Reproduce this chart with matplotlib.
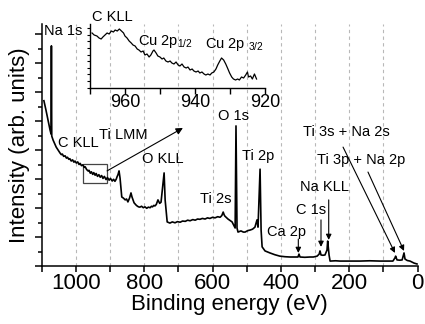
import numpy as np
import matplotlib
matplotlib.use('Agg')
import matplotlib.pyplot as plt
from matplotlib.ticker import MultipleLocator, NullFormatter
from matplotlib.patches import Rectangle

plt.rcParams['font.family'] = ['Liberation Sans', 'DejaVu Sans']

# survey spectrum (binding energy in eV, intensity in arb. units)
energy = [1094, 1088, 1082, 1076, 1073, 1072, 1071, 1067, 1058,
          1047, 1043, 1040, 1036, 1032, 1028, 1025, 1021, 1018, 1014, 1010, 1006,
          1003, 999, 995, 991, 988, 984, 980, 976, 973, 969, 965, 962, 958, 955,
          951, 948, 944, 941, 937, 933, 929, 925, 921, 917, 912, 908, 903, 899,
          894, 890, 886, 882, 880, 877, 874, 871, 866, 861,
          856, 852, 848, 843, 839, 836, 833, 830, 827, 824, 821, 817, 813, 808,
          803, 798, 793, 788, 783, 779, 776, 772, 769, 765, 760, 755, 751,
          742, 739, 733,
          725, 718, 710, 703, 695, 688, 680, 673, 666, 658, 651, 644, 637, 630,
          622, 615, 608, 600, 593, 585, 578, 573, 569, 566, 564, 555, 543, 537,
          534, 531.5, 528.5, 525.6, 517, 510, 505, 497, 490, 483, 476, 470, 467, 461,
          458, 455, 446.5, 432, 418, 403, 388, 373, 360, 350, 347, 344, 330, 315, 305,
          294, 288, 285.5, 282.5, 277, 271, 265, 263, 259, 256, 240, 227, 200, 168,
          140, 110, 90, 72, 66, 64, 60, 52, 45, 39.5, 36.6, 30, 22, 10, 1.5]
intensity = [5.70, 5.38, 5.03, 4.69, 4.55, 7.59, 4.48, 4.34, 4.10,
             3.90, 3.84, 3.86, 3.78, 3.80, 3.72, 3.75, 3.68, 3.70, 3.62, 3.66, 3.58,
             3.62, 3.55, 3.59, 3.50, 3.54, 3.46, 3.49, 3.40, 3.42, 3.33, 3.28, 3.30,
             3.20, 3.25, 3.16, 3.22, 3.13, 3.19, 3.09, 3.15, 3.06, 3.12, 3.02, 3.09,
             2.98, 3.05, 2.96, 3.02, 2.93, 2.99, 2.92, 3.00, 3.07, 3.15, 3.28, 3.03,
             2.38, 2.34,
             2.28, 2.31, 2.21, 2.35, 2.52, 2.38, 2.28, 2.18, 2.14, 2.10, 2.07, 2.04,
             2.03, 2.06, 2.01, 2.04, 1.99, 2.03, 2.01, 2.06, 2.04, 2.09, 2.07, 2.12,
             2.28, 2.16, 2.20,
             3.21, 2.28, 1.52,
             1.48, 1.52, 1.49, 1.53, 1.51, 1.55, 1.54, 1.58, 1.56, 1.60, 1.58, 1.62,
             1.61, 1.64, 1.62, 1.66, 1.64, 1.68, 1.66, 1.70, 1.68, 1.74, 1.86, 1.76,
             1.72, 1.62, 1.52, 1.38,
             1.31, 4.83, 1.31, 1.17, 1.21, 1.17, 1.17, 1.22, 1.24, 1.27, 1.34, 1.59,
             1.34, 3.34, 1.24, 0.66, 0.52, 0.45, 0.39, 0.34, 0.32, 0.31, 0.31, 0.31,
             0.41, 0.31, 0.30, 0.31, 0.31, 0.34, 0.41, 0.52, 0.38, 0.37, 0.38, 0.55,
             0.86, 0.38, 0.17, 0.18, 0.17, 0.17, 0.17, 0.18, 0.17, 0.17, 0.17, 0.28,
             0.34, 0.21, 0.20, 0.21, 0.45, 0.24, 0.19, 0.17, 0.10, 0.07]

# Cu 2p region shown in the inset
inset_energy = [969.5, 968.9, 968.1, 967.5, 966.9, 966.4, 965.8, 965.2, 964.6, 964.0,
                963.4, 962.9, 962.3, 961.7, 961.1, 960.5, 960.1, 959.5, 958.9, 958.3,
                957.8, 957.2, 956.6, 956.1, 955.5, 954.9, 954.4, 953.8, 953.2, 952.7,
                952.1, 951.8, 951.2, 950.7, 950.1, 949.5, 949.0, 948.4, 947.8, 947.2,
                946.7, 946.1, 945.5, 944.9, 944.4, 943.8, 943.2, 942.6, 942.1, 941.5,
                940.9, 940.4, 939.8, 939.2, 938.7, 938.1, 937.5, 937.0, 936.4, 935.8,
                935.3, 934.7, 934.1, 933.6, 933.0, 932.5, 931.9, 931.3, 930.8, 930.2,
                929.6, 929.1, 928.5, 927.9, 927.4, 926.8, 926.2, 925.6, 925.1, 924.8,
                924.2, 923.7, 923.1, 922.5]
inset_counts = [54.5, 52.5, 51.5, 49.5, 48.5, 50.5, 52.5, 54.5, 53.5, 56.5,
                55.5, 57.5, 56.5, 58.5, 56.5, 54.5, 51.5, 49.5, 46.5, 44.5,
                42.5, 41.5, 38.5, 37.5, 35.5, 36.5, 32.5, 33.5, 30.5, 32.5,
                36.5, 37.5, 34.5, 31.5, 30.5, 28.5, 29.5, 26.5, 25.5, 26.5,
                24.5, 23.5, 25.5, 22.5, 21.5, 23.5, 20.5, 19.5, 20.5, 17.5,
                18.5, 16.5, 15.5, 16.5, 14.5, 15.5, 13.5, 12.5, 13.5, 12.5,
                14.5, 15.5, 18.5, 22.5, 26.5, 29.5, 27.5, 23.5, 19.5, 14.5,
                10.5, 8.5, 7.5, 8.5, 7.5, 10.5, 9.5, 12.5, 15.5, 10.5,
                11.5, 8.5, 13.5, 8.5]

# peak labels: text, (energy, intensity) of the text's left/middle
labels = ['Na 1s', 'C KLL', 'Ti LMM', 'O KLL', 'Ti 2s', 'O 1s', 'Ti 2p',
          'Ca 2p', 'C 1s', 'Na KLL', 'Ti 3s + Na 2s', 'Ti 3p + Na 2p']
label_e = [1094, 1053, 933, 807, 637, 584, 514, 441, 356, 344, 335, 294]
label_i = [8.10, 4.24, 4.52, 3.69, 2.31, 5.17, 3.79, 1.17, 1.93, 2.72, 4.62, 3.66]

# arrows: start (energy, intensity) -> end (energy, intensity)
arrow_start = [(349, 0.93), (282.6, 1.59), (260, 2.28), (218, 4.10), (145, 3.24)]
arrow_end = [(349, 0.45), (282.6, 0.66), (260, 0.90), (66, 0.45), (39.5, 0.52)]

fig = plt.figure(figsize=(4.25, 3.24), dpi=100)
ax = fig.add_axes([41.85 / 425, 58 / 324, 375.65 / 425, 242 / 324])

for g in np.arange(100, 1001, 100):
    ax.axvline(g, color='#b8b8b8', lw=0.8, ls=(0, (3, 3)), zorder=0)

ax.plot(energy, intensity, color='k', lw=1.2)
ax.set_xlim(1100, 0)
ax.set_ylim(0, 8.345)

ax.spines['top'].set_visible(False)
ax.spines['right'].set_visible(False)
for s in ['left', 'bottom']:
    ax.spines[s].set_linewidth(1.1)

ax.xaxis.set_major_locator(MultipleLocator(200))
ax.xaxis.set_minor_locator(MultipleLocator(100))
ax.yaxis.set_major_locator(MultipleLocator(1))
ax.yaxis.set_minor_locator(MultipleLocator(0.5))
ax.yaxis.set_major_formatter(NullFormatter())
ax.tick_params(axis='x', which='both', direction='out', length=4, width=1.1,
               labelsize=16, pad=1)
ax.tick_params(axis='y', which='major', direction='out', length=5, width=1.1)
ax.tick_params(axis='y', which='minor', direction='out', length=3, width=1.1)
ax.set_xlabel('Binding energy (eV)', fontsize=16, labelpad=0)
ax.set_ylabel('Intensity (arb. units)', fontsize=16, labelpad=0)

for t, e, i in zip(labels, label_e, label_i):
    ax.text(e, i, t, fontsize=10.5, ha='left', va='center')

for (e0, i0), (e1, i1) in zip(arrow_start, arrow_end):
    ax.annotate('', xy=(e1, i1), xytext=(e0, i0),
                arrowprops=dict(arrowstyle='-|>', color='k', lw=0.8,
                                mutation_scale=8, shrinkA=0, shrinkB=0))

# zoom box and arrow to inset
ax.add_patch(Rectangle((979, 2.87), 910 - 979, 3.52 - 2.87, fill=False,
                       edgecolor='#444444', lw=0.9))
ax.annotate('', xy=(687, 4.76), xytext=(909, 3.28),
            arrowprops=dict(arrowstyle='-|>', color='k', lw=0.8,
                            mutation_scale=10, shrinkA=0, shrinkB=0))

# inset
axin = fig.add_axes([90.3 / 425, (324 - 87.5) / 324, 175 / 425, 63.5 / 324])
axin.patch.set_alpha(0)
axin.plot(inset_energy, inset_counts, color='k', lw=0.9)
axin.set_xlim(970, 920)
axin.set_ylim(0, 63.5)
axin.spines['top'].set_visible(False)
axin.spines['right'].set_visible(False)
for s in ['left', 'bottom']:
    axin.spines[s].set_linewidth(1.0)
axin.xaxis.set_major_locator(MultipleLocator(20))
axin.xaxis.set_minor_locator(MultipleLocator(10))
axin.yaxis.set_major_locator(MultipleLocator(6.6))
axin.yaxis.set_major_formatter(NullFormatter())
axin.tick_params(axis='x', which='both', direction='out', length=4, width=1.0,
                 labelsize=13, pad=1)
axin.tick_params(axis='y', direction='out', length=2, width=0.8)

axin.text(969.6, 70.8, 'C KLL', fontsize=10.5, ha='left', va='center', clip_on=False)
axin.text(956.3, 43, r'Cu 2p$_{\mathregular{1/2}}$', fontsize=10.5, ha='left', va='baseline')
axin.text(937.2, 39.5, r'Cu 2p $_{\mathregular{3/2}}$', fontsize=10.5, ha='left', va='baseline')

fig.savefig('out.png', dpi=100)
